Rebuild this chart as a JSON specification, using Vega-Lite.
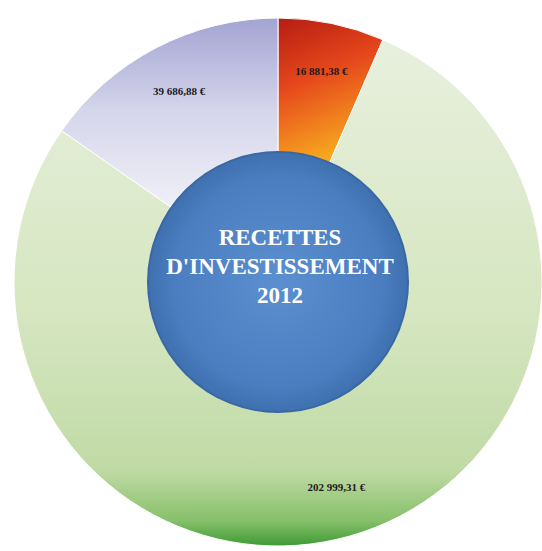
{
  "$schema": "https://vega.github.io/schema/vega-lite/v6.json",
  "width": 528,
  "height": 538,
  "padding": {"left": 14, "top": 13, "right": 0, "bottom": 0},
  "autosize": {"type": "none"},
  "background": "#ffffff",
  "config": {"view": {"stroke": null}},
  "data": {"values": [
    {"poste": "rouge", "montant": 16881.38, "label": "16 881,38 €", "ordre": 1},
    {"poste": "vert", "montant": 202999.31, "label": "202 999,31 €", "ordre": 2},
    {"poste": "lavande", "montant": 39686.88, "label": "39 686,88 €", "ordre": 3}
  ]},
  "layer": [
    {
      "mark": {"type": "arc", "radius": 264, "innerRadius": 128, "stroke": "#ffffff", "strokeWidth": 1},
      "encoding": {
        "theta": {"field": "montant", "type": "quantitative", "stack": true},
        "order": {"field": "ordre", "type": "quantitative"},
        "color": {
          "condition": [
            {"test": "datum.poste === 'rouge'", "value": {"gradient": "linear", "x1": 0, "y1": 0, "x2": 0.3, "y2": 1, "stops": [{"offset": 0, "color": "#b51d12"}, {"offset": 0.45, "color": "#e5461b"}, {"offset": 1, "color": "#f8a81f"}]}},
            {"test": "datum.poste === 'lavande'", "value": {"gradient": "linear", "x1": 0, "y1": 0, "x2": 0, "y2": 1, "stops": [{"offset": 0, "color": "#a4a4d3"}, {"offset": 0.5, "color": "#d6d6ec"}, {"offset": 1, "color": "#f0f0f7"}]}}
          ],
          "value": {"gradient": "linear", "x1": 0, "y1": 0, "x2": 0, "y2": 1, "stops": [{"offset": 0, "color": "#e8f0de"}, {"offset": 0.55, "color": "#d5e6c0"}, {"offset": 0.85, "color": "#c0daa5"}, {"offset": 0.95, "color": "#86c06a"}, {"offset": 1, "color": "#3f9a35"}]}
        }
      }
    },
    {
      "mark": {"type": "text", "radius": 214, "font": "Liberation Serif", "fontWeight": "bold", "fontSize": 11, "color": "#1a1a1a"},
      "encoding": {
        "theta": {"field": "montant", "type": "quantitative", "stack": true},
        "order": {"field": "ordre", "type": "quantitative"},
        "text": {"field": "label"}
      }
    },
    {
      "data": {"values": [{"titre": "RECETTES D'INVESTISSEMENT 2012"}]},
      "mark": {"type": "arc", "radius": 130, "stroke": "#3a68a4", "strokeWidth": 2, "fill": {"gradient": "radial", "stops": [{"offset": 0, "color": "#5b8fd0"}, {"offset": 0.8, "color": "#4a7ec0"}, {"offset": 1, "color": "#3f70b0"}]}},
      "encoding": {}
    },
    {
      "data": {"values": [{"titre": ["RECETTES", "D'INVESTISSEMENT", "2012"]}]},
      "mark": {"type": "text", "font": "Liberation Serif", "fontWeight": "bold", "fontSize": 23, "lineHeight": 29, "color": "#ffffff", "align": "center", "baseline": "middle", "dy": -44, "dx": 2},
      "encoding": {"text": {"field": "titre"}}
    }
  ]
}
